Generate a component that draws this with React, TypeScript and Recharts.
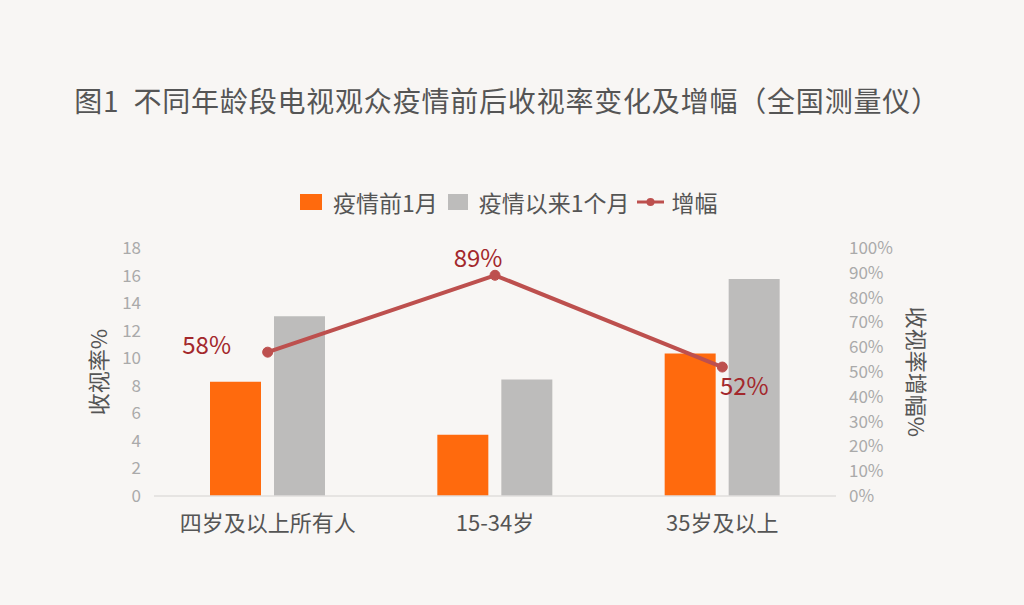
import React from "react";
import { Bar, ComposedChart, LabelList, Line, XAxis, YAxis, ReferenceLine } from "recharts";

const categories = ["四岁及以上所有人", "15-34岁", "35岁及以上"];
const before = [8.3, 4.45, 10.35];
const after = [13.05, 8.45, 15.75];
const growth = [0.58, 0.89, 0.52];
const growthLabels = ["58%", "89%", "52%"];
const leftTicks = [0, 2, 4, 6, 8, 10, 12, 14, 16, 18];
const rightTicks = [0, 0.1, 0.2, 0.3, 0.4, 0.5, 0.6, 0.7, 0.8, 0.9, 1];

const FONT = '"Noto Sans CJK SC", "Noto Sans", sans-serif';
const ORANGE = "#ff6a0d";
const GRAY = "#bdbcbb";
const RED = "#bd504e";
const LABEL_RED = "#a3282c";

const data = categories.map((name, i) => ({
  name,
  before: before[i],
  after: after[i],
  growth: growth[i],
  label: growthLabels[i],
}));

// label offsets for the three growth points: left, above, below-right
const labelOffsets = [
  { dx: -61, dy: 2 },
  { dx: -17, dy: -8 },
  { dx: 22, dy: 28 },
];

function GrowthLabel(props: any) {
  const { x, y, value, index } = props;
  const o = labelOffsets[index] ?? { dx: 0, dy: -12 };
  return (
    <text x={x + o.dx} y={y + o.dy} textAnchor="middle" fontSize={24} fill={LABEL_RED} fontFamily={FONT}>
      {value}
    </text>
  );
}

function LegendItem({
  kind,
  color,
  text,
  gap,
  boxW = 22,
}: {
  kind: "box" | "line";
  color: string;
  text: string;
  gap: number;
  boxW?: number;
}) {
  return (
    <span style={{ display: "inline-flex", alignItems: "center", marginRight: gap }}>
      {kind === "box" ? (
        <span style={{ display: "inline-block", width: boxW, height: 16, background: color, marginRight: 11 }} />
      ) : (
        <svg width={29} height={16} style={{ marginRight: 7 }}>
          <line x1={1} y1={8} x2={28} y2={8} stroke={color} strokeWidth={3} />
          <circle cx={14.5} cy={8} r={4} fill={color} />
        </svg>
      )}
      <span>{text}</span>
    </span>
  );
}

export default function App() {
  return (
    <div
      style={{
        position: "absolute",
        left: 0,
        top: 0,
        width: 1024,
        height: 605,
        background: "#f8f6f4",
        fontFamily: FONT,
        overflow: "hidden",
      }}
    >
      <div
        style={{
          position: "absolute",
          top: 80,
          left: 0,
          width: 1024,
          boxSizing: "border-box",
          paddingRight: 10,
          textAlign: "center",
          fontSize: 28,
          color: "#555",
          letterSpacing: 0.8,
          whiteSpace: "pre",
        }}
      >
        {"图1  不同年龄段电视观众疫情前后收视率变化及增幅（全国测量仪）"}
      </div>
      <div
        style={{
          position: "absolute",
          top: 185,
          left: 300,
          display: "flex",
          fontSize: 23,
          color: "#555",
          whiteSpace: "nowrap",
        }}
      >
        <LegendItem kind="box" color={ORANGE} text="疫情前1月" gap={10} />
        <LegendItem kind="box" color={GRAY} text="疫情以来1个月" gap={6} boxW={20} />
        <LegendItem kind="line" color={RED} text="增幅" gap={0} />
      </div>
      <div style={{ position: "absolute", left: 0, top: 0 }}>
        <ComposedChart
          width={1024}
          height={605}
          data={data}
          margin={{ top: 248, right: 128, bottom: 59, left: 94 }}
          barGap={13}
          barSize={51}
        >
          <XAxis
            dataKey="name"
            axisLine={false}
            tickLine={false}
            height={50}
            tick={{ fontSize: 22, fill: "#555", fontFamily: FONT }}
            tickMargin={13}
          />
          <YAxis
            yAxisId="left"
            domain={[0, 18]}
            ticks={leftTicks}
            interval={0}
            axisLine={false}
            tickLine={false}
            width={60}
            tickMargin={7}
            tick={{ fontSize: 17, fill: "#aaa", fontFamily: FONT }}
            label={{
              value: "收视率%",
              angle: -90,
              position: "insideLeft",
              offset: 0,
              dx: 5,
              style: { fontSize: 22, fill: "#555", fontFamily: FONT, textAnchor: "middle" },
            }}
          />
          <YAxis
            yAxisId="right"
            orientation="right"
            domain={[0, 1]}
            ticks={rightTicks}
            interval={0}
            axisLine={false}
            tickLine={false}
            width={60}
            tickMargin={7}
            tickFormatter={(v: number) => `${Math.round(v * 100)}%`}
            tick={{ fontSize: 17, fill: "#aaa", fontFamily: FONT, textAnchor: "start" }}
            label={{
              value: "收视率增幅%",
              angle: 90,
              position: "insideRight",
              offset: -20,
              style: { fontSize: 22, fill: "#555", fontFamily: FONT, textAnchor: "middle" },
            }}
          />
          <ReferenceLine yAxisId="left" y={0} stroke="#e0dedc" strokeWidth={1.5} />
          <Bar yAxisId="left" dataKey="before" fill={ORANGE} isAnimationActive={false} />
          <Bar yAxisId="left" dataKey="after" fill={GRAY} isAnimationActive={false} />
          <Line
            yAxisId="right"
            dataKey="growth"
            stroke={RED}
            strokeWidth={4}
            dot={{ r: 5, fill: RED, stroke: RED, strokeWidth: 1 }}
            isAnimationActive={false}
          >
            <LabelList dataKey="label" content={<GrowthLabel />} />
          </Line>
        </ComposedChart>
      </div>
    </div>
  );
}
